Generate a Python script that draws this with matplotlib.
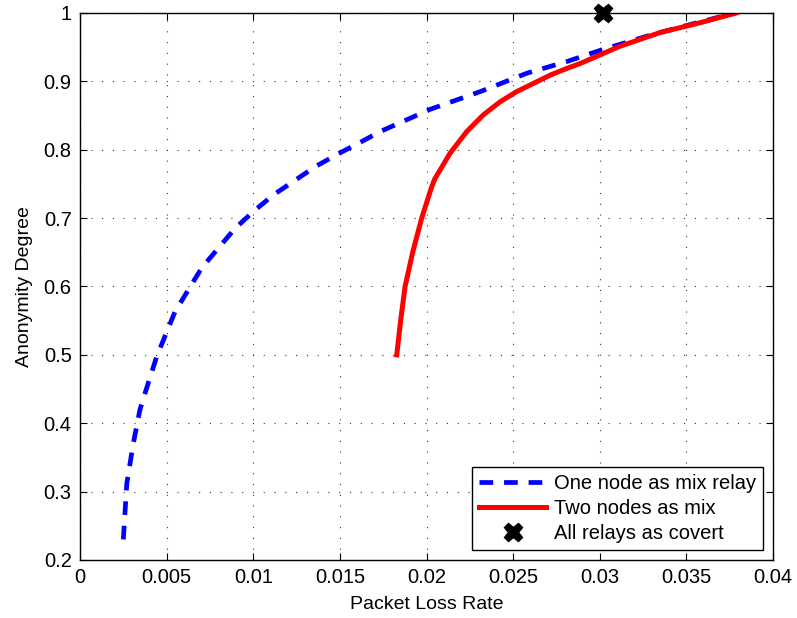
import matplotlib
matplotlib.use("Agg")
import matplotlib.pyplot as plt

plt.rcParams['font.family'] = ['Liberation Sans', 'DejaVu Sans']

one_x = [0.0025, 0.0027, 0.00308, 0.00346, 0.00394, 0.00442, 0.0049, 0.00548, 0.00625,
         0.00702, 0.00798, 0.00895, 0.0100, 0.01116, 0.0124, 0.01356, 0.0149, 0.01626,
         0.01732, 0.0202, 0.0231, 0.0258, 0.0281, 0.0301, 0.03297, 0.0355, 0.0378]
one_y = [0.23, 0.312, 0.371, 0.42, 0.459, 0.497, 0.527, 0.563, 0.595,
         0.627, 0.656, 0.685, 0.7095, 0.734, 0.755, 0.775, 0.794, 0.812,
         0.8265, 0.859, 0.885, 0.912, 0.929, 0.946, 0.968, 0.985, 1.0]

two_x = [0.01828, 0.01851, 0.01876, 0.0192, 0.01972, 0.0203, 0.02049, 0.02136, 0.02232,
         0.02328, 0.02424, 0.0252, 0.02617, 0.02713, 0.0281, 0.02886, 0.03113, 0.03347,
         0.0358, 0.03787]
two_y = [0.50, 0.551, 0.60, 0.65, 0.70, 0.746, 0.758, 0.795, 0.8265,
         0.851, 0.870, 0.885, 0.897, 0.909, 0.919, 0.926, 0.951, 0.9713,
         0.9858, 1.0]

covert_x = [0.0302]
covert_y = [1.0]

xticks = [0, 0.005, 0.01, 0.015, 0.02, 0.025, 0.03, 0.035, 0.04]
xticklabels = ['0', '0.005', '0.01', '0.015', '0.02', '0.025', '0.03', '0.035', '0.04']
yticks = [0.2, 0.3, 0.4, 0.5, 0.6, 0.7, 0.8, 0.9, 1.0]
yticklabels = ['0.2', '0.3', '0.4', '0.5', '0.6', '0.7', '0.8', '0.9', '1']

fig = plt.figure(figsize=(7.97, 6.18), dpi=100)
ax = fig.add_axes([0.1004, 0.0939, 0.8696, 0.8851])

ax.plot(one_x, one_y, color='#0000ff', lw=3.4, ls=(0, (2.9, 2.3)),
        solid_joinstyle='round', label='One node as mix relay')
ax.plot(two_x, two_y, color='#ff0000', lw=3.6, ls='-', solid_joinstyle='round',
        label='Two nodes as mix')
ax.plot(covert_x, covert_y, ls='none', marker='X', color='black', markersize=13,
        clip_on=False, zorder=5, label='All relays as covert')

ax.set_xlim(0, 0.04)
ax.set_ylim(0.2, 1.0)
ax.set_xticks(xticks)
ax.set_xticklabels(xticklabels)
ax.set_yticks(yticks)
ax.set_yticklabels(yticklabels)
ax.tick_params(direction='in', top=True, right=True, labelsize=14.5, length=5, pad=6)
ax.grid(True, color='#333333', ls=(0, (1, 8.7)), lw=0.8)
for s in ax.spines.values():
    s.set_linewidth(1.0)

ax.set_xlabel('Packet Loss Rate', fontsize=14, labelpad=6)
ax.set_ylabel('Anonymity Degree', fontsize=14)
ax.yaxis.set_label_coords(-0.068, 0.5)

leg = ax.legend(loc='lower right', fontsize=14.5, fancybox=False, framealpha=1,
                edgecolor='black', handlelength=3.3, borderaxespad=0.5,
                labelspacing=0.3, handletextpad=0.4, borderpad=0.35)
leg.get_frame().set_linewidth(1.0)

fig.savefig('out.png', dpi=100)
